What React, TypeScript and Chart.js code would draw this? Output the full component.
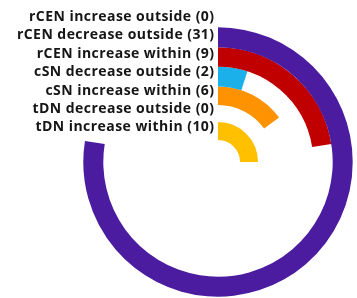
import { useEffect, useRef } from "react";
import { Chart, registerables } from "chart.js";

Chart.register(...registerables);

// ---- data ----
const categories = [
  "rCEN increase outside",
  "rCEN decrease outside",
  "rCEN increase within",
  "cSN decrease outside",
  "cSN increase within",
  "tDN decrease outside",
  "tDN increase within",
];
const counts = [0, 31, 9, 2, 6, 0, 10];
const scaleMax = 40;

// ---- styles ----
const ringColors = ["#7A7A7A", "#4B1CA0", "#C00000", "#1CB0EA", "#FF9200", "#FFB000", "#FFC000"];
const ringWeights = [20.3, 20, 19.4, 19.8, 18.5, 17, 18];

const ringLabelPlugin = {
  id: "ringLabels",
  afterDraw(chart: any) {
    const arc = chart.getDatasetMeta(0).data[0];
    if (!arc) return;
    const cx = arc.x;
    const cy = arc.y;
    const ctx = chart.ctx;
    ctx.save();
    ctx.font = "bold 14px 'Open Sans'";
    (ctx as any).letterSpacing = "0.45px";
    ctx.fillStyle = "#151515";
    ctx.textAlign = "right";
    ctx.textBaseline = "middle";
    categories.forEach((c, i) => {
      ctx.fillText(`${c} (${counts[i]})`, cx - 3.5, cy - 145 + i * 18.4);
    });
    ctx.restore();
  },
};

export default function App() {
  const ref = useRef<HTMLCanvasElement | null>(null);

  useEffect(() => {
    if (!ref.current) return;
    const chart = new Chart(ref.current, {
      type: "doughnut",
      data: {
        labels: ["value", "rest"],
        datasets: categories.map((c, i) => ({
          label: c,
          data: [counts[i], scaleMax - counts[i]],
          backgroundColor: [ringColors[i], "rgba(0,0,0,0)"],
          borderWidth: 0,
          hoverOffset: 0,
          offset: 0,
          weight: ringWeights[i],
        })),
      },
      options: {
        responsive: false,
        animation: false,
        events: [],
        cutout: 22,
        rotation: 0,
        circumference: 360,
        layout: { padding: 7 },
        plugins: {
          legend: { display: false },
          tooltip: { enabled: false },
        },
      },
      plugins: [ringLabelPlugin],
    });
    return () => chart.destroy();
  }, []);

  return (
    <div
      style={{
        position: "fixed",
        left: 0,
        top: 0,
        width: 357,
        height: 298,
        overflow: "hidden",
        background: "#fff",
      }}
    >
      <canvas ref={ref} width={436} height={324} style={{ width: 436, height: 324, display: "block" }} />
    </div>
  );
}
